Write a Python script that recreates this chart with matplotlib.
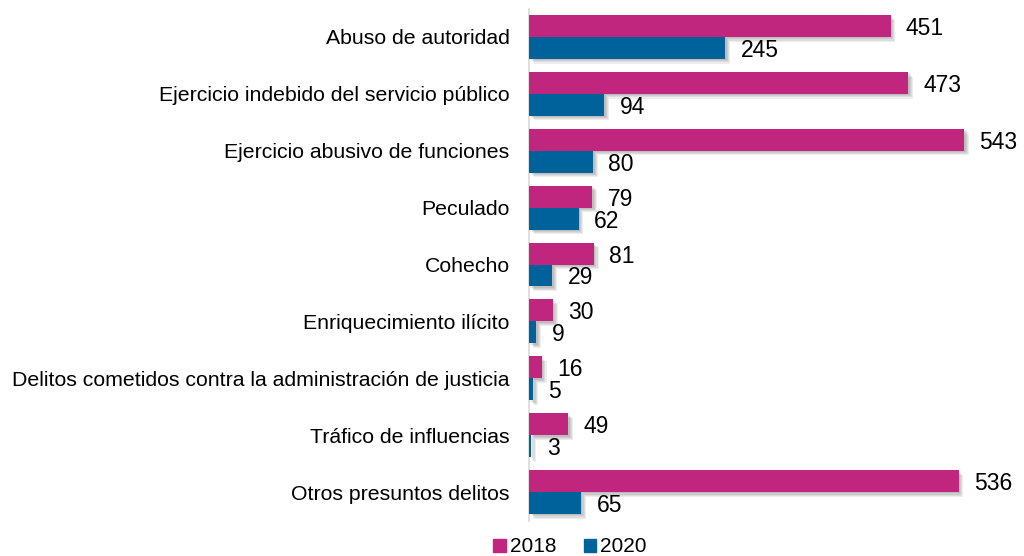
import matplotlib
matplotlib.use("Agg")
import matplotlib.pyplot as plt
import matplotlib.patheffects as pe
import numpy as np

plt.rcParams['font.family'] = ['Liberation Sans', 'DejaVu Sans']

categories = [
    "Abuso de autoridad",
    "Ejercicio indebido del servicio público",
    "Ejercicio abusivo de funciones",
    "Peculado",
    "Cohecho",
    "Enriquecimiento ilícito",
    "Delitos cometidos contra la administración de justicia",
    "Tráfico de influencias",
    "Otros presuntos delitos",
]
values_2018 = [451, 473, 543, 79, 81, 30, 16, 49, 536]
values_2020 = [245, 94, 80, 62, 29, 9, 5, 3, 65]
series_names = ["2018", "2020"]
colors = ["#C0267E", "#00629B"]

fig = plt.figure(figsize=(10.24, 5.56), dpi=100)
ax = fig.add_axes([529/1024, 1 - 520.5/556, (1010-529)/1024, (520.5-8.5)/556])

n = len(categories)
y = np.arange(n)
h = 0.385

shadow = [pe.SimplePatchShadow(offset=(o, -o), shadow_rgbFace='#000000', alpha=0.07) for o in (1.0, 1.8, 2.6, 3.4)] + [pe.Normal()]

b1 = ax.barh(y - h/2, values_2018, height=h, color=colors[0], label=series_names[0], zorder=3)
b2 = ax.barh(y + h/2, values_2020, height=h, color=colors[1], label=series_names[1], zorder=3)
for bars in (b1, b2):
    for p in bars:
        p.set_path_effects(shadow)
    texts = ax.bar_label(bars, padding=11, fontsize=16.5, color='black')
    for t in texts:
        t.set_va('center_baseline')

ax.set_xlim(0, 600)
ax.set_ylim(n - 0.5, -0.5)
ax.set_yticks(y)
ax.set_yticklabels(categories, fontsize=15.3)
ax.tick_params(axis='y', length=0, pad=14)
ax.set_xticks([])
for s in ('top', 'right', 'bottom'):
    ax.spines[s].set_visible(False)
ax.spines['left'].set_color('#D9D9D9')
ax.spines['left'].set_linewidth(1.2)

handles = [plt.Rectangle((0, 0), 1, 1, color=c) for c in colors]
fig.legend(handles, series_names, loc='center', bbox_to_anchor=(570/1024, 1 - 547/556),
           ncol=2, frameon=False, fontsize=15, handlelength=0.6, handleheight=0.6,
           handletextpad=0.2, columnspacing=1.3)

fig.savefig("out.png", dpi=100)
